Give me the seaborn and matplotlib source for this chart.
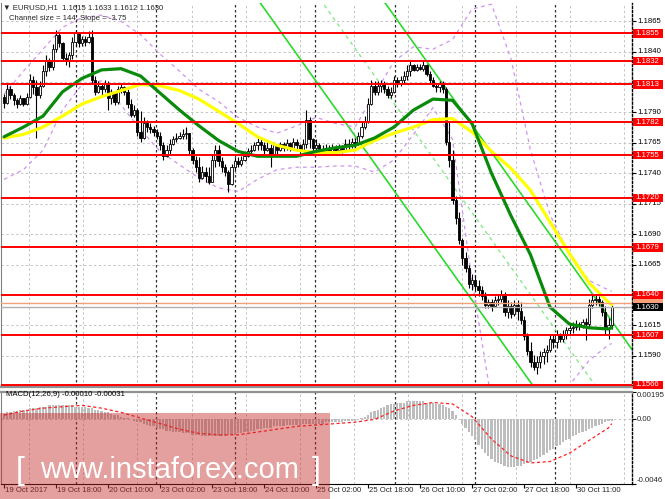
import numpy as np
import pandas as pd
import matplotlib
matplotlib.use("Agg")
import matplotlib.pyplot as plt
import matplotlib.transforms as mtransforms
from matplotlib.patches import Rectangle
import seaborn as sns

# ---------------- data ----------------
first_open = 1.1803
closes = [1.1798, 1.1809, 1.1804, 1.1800, 1.1797, 1.1802, 1.1797, 1.1803, 1.1817, 1.1811,
          1.1804, 1.1812, 1.1824, 1.1832, 1.1827, 1.1842, 1.1854, 1.1847, 1.1835, 1.1832,
          1.1837, 1.1848, 1.1855, 1.1847, 1.1850, 1.1848, 1.1852, 1.1817, 1.1807, 1.1812,
          1.1809, 1.1814, 1.1802, 1.1806, 1.1799, 1.1809, 1.1811, 1.1807, 1.1797, 1.1788,
          1.1792, 1.1774, 1.1769, 1.1781, 1.1778, 1.1776, 1.1774, 1.1771, 1.1763, 1.1754,
          1.1759, 1.1764, 1.1768, 1.1769, 1.1771, 1.1772, 1.1773, 1.1759, 1.1751, 1.1745,
          1.1736, 1.1741, 1.1738, 1.1733, 1.1751, 1.1759, 1.1750, 1.1745, 1.1741, 1.1731,
          1.1745, 1.1750, 1.1748, 1.1751, 1.1754, 1.1758, 1.1759, 1.1763, 1.1766, 1.1763,
          1.1759, 1.1761, 1.1756, 1.1763, 1.1759, 1.1764, 1.1761, 1.1765, 1.1761, 1.1766,
          1.1763, 1.1759, 1.1764, 1.1784, 1.1768, 1.1761, 1.1763, 1.1760, 1.1759, 1.1761,
          1.1758, 1.1761, 1.1759, 1.1761, 1.1759, 1.1764, 1.1763, 1.1766, 1.1764, 1.1771,
          1.1778, 1.1783, 1.1797, 1.1812, 1.1807, 1.1812, 1.1814, 1.1809, 1.1804, 1.1807,
          1.1817, 1.1814, 1.1817, 1.1820, 1.1824, 1.1829, 1.1825, 1.1827, 1.1826, 1.1829,
          1.1822, 1.1817, 1.1812, 1.1811, 1.1814, 1.1809, 1.1766, 1.1751, 1.1718, 1.1703,
          1.1685, 1.1670, 1.1662, 1.1649, 1.1652, 1.1647, 1.1644, 1.1639, 1.1632, 1.1634,
          1.1631, 1.1636, 1.1637, 1.1641, 1.1626, 1.1631, 1.1624, 1.1632, 1.1627, 1.1619,
          1.1606, 1.1594, 1.1585, 1.1581, 1.1585, 1.1590, 1.1593, 1.1595, 1.1604, 1.1601,
          1.1608, 1.1604, 1.1607, 1.1611, 1.1613, 1.1614, 1.1616, 1.1615, 1.1618, 1.1616,
          1.1632, 1.1636, 1.1637, 1.1634, 1.1626, 1.1613, 1.1615, 1.1630]
highs = [1.1805, 1.1814, 1.1812, 1.1806, 1.1802, 1.1804, 1.1802, 1.1806, 1.1822, 1.1820,
         1.1817, 1.1816, 1.1829, 1.1837, 1.1835, 1.1846, 1.1858, 1.1855, 1.1848, 1.1839,
         1.1840, 1.1852, 1.1858, 1.1855, 1.1853, 1.1853, 1.1857, 1.1858, 1.1820, 1.1816,
         1.1814, 1.1817, 1.1816, 1.1809, 1.1807, 1.1812, 1.1814, 1.1812, 1.1811, 1.1801,
         1.1796, 1.1794, 1.1791, 1.1786, 1.1784, 1.1781, 1.1779, 1.1776, 1.1774, 1.1766,
         1.1763, 1.1768, 1.1771, 1.1773, 1.1774, 1.1776, 1.1778, 1.1773, 1.1761, 1.1754,
         1.1753, 1.1746, 1.1745, 1.1745, 1.1756, 1.1763, 1.1763, 1.1753, 1.1748, 1.1743,
         1.1748, 1.1753, 1.1753, 1.1754, 1.1758, 1.1761, 1.1763, 1.1766, 1.1769, 1.1768,
         1.1766, 1.1766, 1.1764, 1.1766, 1.1764, 1.1766, 1.1766, 1.1768, 1.1766, 1.1769,
         1.1768, 1.1764, 1.1768, 1.1792, 1.1786, 1.1769, 1.1768, 1.1765, 1.1763, 1.1764,
         1.1763, 1.1764, 1.1763, 1.1764, 1.1763, 1.1768, 1.1768, 1.1769, 1.1769, 1.1774,
         1.1783, 1.1787, 1.1802, 1.1817, 1.1816, 1.1816, 1.1817, 1.1816, 1.1812, 1.1811,
         1.1820, 1.1819, 1.1820, 1.1824, 1.1829, 1.1832, 1.1830, 1.1830, 1.1830, 1.1832,
         1.1830, 1.1824, 1.1819, 1.1814, 1.1816, 1.1816, 1.1811, 1.1783, 1.1759, 1.1721,
         1.1708, 1.1687, 1.1675, 1.1665, 1.1657, 1.1656, 1.1652, 1.1647, 1.1642, 1.1637,
         1.1637, 1.1639, 1.1641, 1.1644, 1.1642, 1.1636, 1.1634, 1.1636, 1.1636, 1.1634,
         1.1623, 1.1609, 1.1601, 1.1591, 1.1590, 1.1594, 1.1596, 1.1599, 1.1608, 1.1608,
         1.1611, 1.1609, 1.1611, 1.1614, 1.1616, 1.1618, 1.1619, 1.1618, 1.1620, 1.1621,
         1.1637, 1.1640, 1.1641, 1.1639, 1.1636, 1.1631, 1.1621, 1.1633]
lows = [1.1794, 1.1797, 1.1801, 1.1796, 1.1794, 1.1796, 1.1795, 1.1796, 1.1802, 1.1805,
        1.1769, 1.1802, 1.1811, 1.1820, 1.1824, 1.1825, 1.1840, 1.1844, 1.1832, 1.1829,
        1.1827, 1.1834, 1.1845, 1.1844, 1.1845, 1.1845, 1.1847, 1.1814, 1.1804, 1.1806,
        1.1804, 1.1807, 1.1792, 1.1797, 1.1796, 1.1797, 1.1806, 1.1804, 1.1794, 1.1786,
        1.1786, 1.1771, 1.1766, 1.1768, 1.1774, 1.1773, 1.1771, 1.1768, 1.1759, 1.1751,
        1.1753, 1.1756, 1.1763, 1.1766, 1.1768, 1.1768, 1.1768, 1.1756, 1.1748, 1.1741,
        1.1733, 1.1735, 1.1733, 1.1731, 1.1733, 1.1745, 1.1746, 1.1741, 1.1738, 1.1725,
        1.1730, 1.1743, 1.1745, 1.1746, 1.1750, 1.1753, 1.1756, 1.1758, 1.1759, 1.1759,
        1.1756, 1.1758, 1.1745, 1.1754, 1.1756, 1.1758, 1.1758, 1.1759, 1.1758, 1.1759,
        1.1759, 1.1756, 1.1758, 1.1761, 1.1761, 1.1758, 1.1759, 1.1758, 1.1756, 1.1757,
        1.1755, 1.1757, 1.1756, 1.1758, 1.1757, 1.1758, 1.1759, 1.1761, 1.1761, 1.1763,
        1.1769, 1.1776, 1.1781, 1.1796, 1.1804, 1.1804, 1.1807, 1.1806, 1.1802, 1.1802,
        1.1806, 1.1811, 1.1812, 1.1814, 1.1817, 1.1820, 1.1824, 1.1824, 1.1825, 1.1824,
        1.1820, 1.1814, 1.1811, 1.1807, 1.1807, 1.1806, 1.1763, 1.1745, 1.1715, 1.1698,
        1.1682, 1.1665, 1.1659, 1.1646, 1.1644, 1.1644, 1.1639, 1.1636, 1.1629, 1.1629,
        1.1627, 1.1631, 1.1632, 1.1634, 1.1623, 1.1621, 1.1621, 1.1623, 1.1619, 1.1616,
        1.1603, 1.1591, 1.1581, 1.1578, 1.1575, 1.1580, 1.1583, 1.1585, 1.1593, 1.1596,
        1.1596, 1.1601, 1.1601, 1.1604, 1.1608, 1.1609, 1.1611, 1.1611, 1.1613, 1.1603,
        1.1614, 1.1629, 1.1632, 1.1631, 1.1623, 1.1608, 1.1604, 1.1612]

# moving averages / bands, read every 6 bars
ind_bars = [0, 6, 12, 18, 24, 30, 36, 42, 48, 54, 60, 66, 72, 78, 84, 90, 96, 102,
            108, 114, 120, 126, 132, 138, 144, 150, 156, 162, 168, 174, 180, 186, 187]
ma_green = [1.1770, 1.1778, 1.1787, 1.1807, 1.1818, 1.1825, 1.1826, 1.1820, 1.1806, 1.1792,
            1.1779, 1.1767, 1.1758, 1.1754, 1.1754, 1.1754, 1.1758, 1.1761, 1.1763, 1.1769,
            1.1778, 1.1792, 1.1801, 1.1800, 1.1781, 1.1740, 1.1705, 1.1673, 1.1630, 1.1616,
            1.1613, 1.1612, 1.1613]
ma_yellow = [1.1769, 1.1772, 1.1778, 1.1787, 1.1797, 1.1803, 1.1808, 1.1813, 1.1812, 1.1808,
             1.1801, 1.1791, 1.1781, 1.1770, 1.1763, 1.1759, 1.1757, 1.1757, 1.1759, 1.1767,
             1.1773, 1.1778, 1.1784, 1.1785, 1.1774, 1.1758, 1.1744, 1.1726, 1.1700, 1.1674,
             1.1650, 1.1634, 1.1632]
band_upper = [1.1805, 1.1824, 1.1842, 1.1860, 1.1868, 1.1870, 1.1865, 1.1854, 1.1838, 1.1824,
              1.1809, 1.1799, 1.1786, 1.1778, 1.1773, 1.1779, 1.1786, 1.1781, 1.1778, 1.1805,
              1.1832, 1.1844, 1.1842, 1.1850, 1.1875, 1.1879, 1.1834, 1.1759, 1.1706, 1.1673,
              1.1652, 1.1644, 1.1643]
band_lower = [1.1735, 1.1743, 1.1759, 1.1792, 1.1813, 1.1816, 1.1796, 1.1776, 1.1758, 1.1747,
              1.1736, 1.1728, 1.1725, 1.1735, 1.1743, 1.1745, 1.1745, 1.1746, 1.1746, 1.1741,
              1.1751, 1.1772, 1.1794, 1.1768, 1.1652, 1.1553, 1.1537, 1.1528, 1.1545, 1.1566,
              1.1586, 1.1599, 1.1600]

# MACD main (histogram) per bar, in units of 1e-4
macd_main_e4 = [4, 5, 5, 6, 6, 7, 7, 7, 8, 8, 8, 9, 9, 9, 10, 10, 10, 10,
                10, 10, 10, 10, 9, 9, 9, 9, 8, 8, 7, 7, 6, 5, 5, 4, 3, 3,
                2, 1, 1, 0, -1, -2, -2, -3, -4, -5, -5, -6, -7, -7, -8, -8, -9, -9,
                -9, -10, -10, -10, -11, -11, -11, -12, -12, -12, -12, -12,
                -12, -12, -12, -11, -11, -11, -10, -10, -9, -9, -8, -8,
                -7, -7, -6, -6, -6, -5, -5, -5, -5, -4, -4, -4,
                -4, -4, -3, -3, -3, -3, -3, -3, -3, -2, -2, -2,
                -2, -2, -2, -1, -1, -1, -1, 0, 1, 2, 3, 5,
                6, 7, 8, 9, 10, 11, 11, 12, 12, 12, 13, 13,
                13, 13, 13, 13, 12, 12, 12, 11, 11, 10, 9, 8,
                6, 3, 0, -3, -6, -9, -12, -15, -18, -21, -24, -26,
                -28, -30, -31, -32, -33, -34, -34, -34, -33, -33, -32, -31,
                -30, -29, -28, -27, -25, -24, -22, -21, -19, -18, -16, -15,
                -14, -12, -11, -10, -9, -8, -7, -6, -5, -4, -3, -2, -1, -1]
macd_signal_e4 = [3, 6, 8, 9, 10, 8, 5, 1, -3, -7, -10, -11, -11, -9, -7, -5, -4, -3,
                  -2, 0, 6, 10, 12, 11, 2, -14, -26, -31, -30, -24, -15, -6, -3]

channel_ref_bar = 78.2
channel_ref_price = 1.18825     # lower channel line at reference bar
channel_slope_pips = -3.75
channel_size_pips = 144

levels = [1.1855, 1.1832, 1.1813, 1.1782, 1.1755, 1.1720, 1.1679, 1.1640, 1.1607, 1.1566]
price_ticks = [1.1865, 1.1840, 1.1815, 1.1790, 1.1765, 1.1740, 1.1715, 1.1690, 1.1665,
               1.1640, 1.1615, 1.1590]
hidden_tick_labels = [1.1815, 1.1640]
bid, ask = 1.1630, 1.1633
time_labels = ['19 Oct 2017', '19 Oct 18:00', '20 Oct 10:00', '23 Oct 02:00', '23 Oct 18:00',
               '24 Oct 10:00', '25 Oct 02:00', '25 Oct 18:00', '26 Oct 10:00', '27 Oct 02:00',
               '27 Oct 18:00', '30 Oct 11:00']
time_label_bars = [0, 16, 32, 48, 64, 80, 96, 112, 128, 144, 160, 176]
separator_bars = [22.2, 46.8, 71.1, 95.7, 120.3, 144.9, 169.5]
grid_bars = [7.7, 24.3, 40.9, 57.8, 74.5, 91.1, 107.8, 124.4, 141.0, 157.6, 174.3, 190.9]

# ---------------- figure ----------------
W, H = 665, 499
sns.set_theme(style="white")
plt.rcParams['font.family'] = ['Liberation Sans', 'DejaVu Sans']
fig = plt.figure(figsize=(W / 100, H / 100), dpi=100)
fig.patch.set_facecolor('white')

ax = fig.add_axes([1 / W, 1 - 387 / H, 631 / W, 384 / H])
mx = fig.add_axes([1 / W, 1 - 484 / H, 631 / W, 92 / H])
XL = (-0.923, 193.23)
YL = (1.15643, 1.18800)
MYL = (-0.0046, 0.00195)

n = len(closes)
idx = np.arange(n)
opens = [first_open] + closes[:-1]
df = pd.DataFrame({'i': idx, 'open': opens, 'close': closes, 'high': highs, 'low': lows})
df['high'] = df[['high', 'open', 'close']].max(axis=1)
df['low'] = df[['low', 'open', 'close']].min(axis=1)

grid_col = '#c4c4c4'
for a in (ax, mx):
    for b in grid_bars:
        a.axvline(b, color=grid_col, lw=0.7, ls=(0, (2.5, 2.5)), zorder=0.4)
    for b in separator_bars:
        a.axvline(b, color='#303030', lw=0.9, ls=(0, (2, 2)), zorder=0.5)
for p in price_ticks:
    ax.axhline(p, color=grid_col, lw=0.7, ls=(0, (2.5, 2.5)), zorder=0.4)

# channel lines
xs = np.array([XL[0], XL[1]])
low_line = channel_ref_price + channel_slope_pips * 1e-4 * (xs - channel_ref_bar)
chan = pd.DataFrame({'x': xs, 'lower': low_line,
                     'mid': low_line + channel_size_pips * 1e-4 / 2,
                     'upper': low_line + channel_size_pips * 1e-4})
sns.lineplot(data=chan, x='x', y='lower', ax=ax, color='#2bd92b', lw=1.2, zorder=1)
sns.lineplot(data=chan, x='x', y='upper', ax=ax, color='#2bd92b', lw=1.2, zorder=1)
sns.lineplot(data=chan, x='x', y='mid', ax=ax, color='#7be87b', lw=0.9, ls=(0, (3, 3)), zorder=1)

# bands
ind = pd.DataFrame({'i': ind_bars, 'green': ma_green, 'yellow': ma_yellow,
                    'up': band_upper, 'lo': band_lower})
sns.lineplot(data=ind, x='i', y='up', ax=ax, color='#cf94f0', lw=0.9, ls=(0, (3, 3)), zorder=1.2)
sns.lineplot(data=ind, x='i', y='lo', ax=ax, color='#cf94f0', lw=0.9, ls=(0, (3, 3)), zorder=1.2)

# candles
up = df['close'] >= df['open']
ax.vlines(df['i'], df['low'], df['high'], color='black', lw=0.8, zorder=2)
body_h = (df['close'] - df['open']).abs().clip(lower=0.00004)
body_b = df[['open', 'close']].min(axis=1)
ax.bar(df['i'][up], body_h[up], bottom=body_b[up], width=0.62, color='white',
       edgecolor='black', lw=0.6, zorder=2.1)
ax.bar(df['i'][~up], body_h[~up], bottom=body_b[~up], width=0.62, color='black',
       edgecolor='black', lw=0.6, zorder=2.1)

# moving averages
sns.lineplot(data=ind, x='i', y='yellow', ax=ax, color='#ffff00', lw=2.3, zorder=3)
sns.lineplot(data=ind, x='i', y='green', ax=ax, color='#0a8a0a', lw=2.3, zorder=3.1)

# horizontal levels
for lv in levels:
    ax.axhline(lv, color='#ff0000', lw=1.4, zorder=4)
ax.axhline(ask, color='#f4a07a', lw=1.0, zorder=3.5)
ax.axhline(bid, color='#b0b0b0', lw=1.0, zorder=3.5)

ax.set_xlim(*XL)
ax.set_ylim(*YL)

# right-side axis labels
tr = mtransforms.blended_transform_factory(ax.transAxes, ax.transData)
fs = 5.6
ax.yaxis.tick_right()
ax.set_yticks(price_ticks)
ax.tick_params(axis='y', right=True, left=False, length=3, width=0.8, color='black',
               labelright=False, labelleft=False, direction='out')
ax.set_xticks([])
for p in price_ticks:
    if p in hidden_tick_labels:
        continue
    ax.text(1.0079, p, f'{p:.4f}', transform=tr, fontsize=fs, va='center', ha='left',
            color='black', zorder=5, clip_on=False)
bh = 8.2 / 384 * (YL[1] - YL[0])
bx, bw = (633 - 1) / 631, 30 / 631
def tag(p, fc, tc, z, show_text=True):
    ax.add_patch(Rectangle((bx, p - bh / 2), bw, bh, transform=tr, facecolor=fc,
                           edgecolor='none', clip_on=False, zorder=z))
    if show_text:
        ax.text(bx + 2.5 / 631, p, f'{p:.4f}', transform=tr, fontsize=fs, va='center',
                ha='left', color=tc, zorder=z + 0.1, clip_on=False)
for lv in levels:
    tag(lv, '#ff0000', 'white', 6)
tag(ask, '#f4a07a', 'white', 6.5, show_text=False)
tag(bid, '#000000', 'white', 7)

ax.spines['top'].set_visible(False)
ax.spines['left'].set_color('#808080')
ax.spines['left'].set_linewidth(0.8)
ax.spines['right'].set_color('black')
ax.spines['right'].set_linestyle((0, (1.5, 1.5)))
ax.spines['right'].set_linewidth(1.0)
ax.spines['bottom'].set_color('#909090')
ax.spines['bottom'].set_linewidth(1.6)
ax.set_xlabel('')
ax.set_ylabel('')

# ---------------- MACD ----------------
macd_df = pd.DataFrame({'i': idx, 'v': np.array(macd_main_e4) * 1e-4})
sns.barplot(data=macd_df, x='i', y='v', ax=mx, native_scale=True, color='#bdbdbd',
            saturation=1, width=0.7, errorbar=None, linewidth=0)
sig_df = pd.DataFrame({'i': ind_bars, 's': np.array(macd_signal_e4) * 1e-4})
sns.lineplot(data=sig_df, x='i', y='s', ax=mx, color='#ff2020', lw=0.9, ls=(0, (2.5, 2)), zorder=3)
mx.axhline(0, color=grid_col, lw=0.7, ls=(0, (2.5, 2.5)), zorder=0.4)
mx.set_xlim(*XL)
mx.set_ylim(*MYL)
mx.set_xlabel('')
mx.set_ylabel('')
mx.set_yticks([MYL[1], 0.0, MYL[0]])
mx.yaxis.tick_right()
mx.tick_params(axis='y', right=True, left=False, length=3, width=0.8, labelright=False,
               labelleft=False, direction='out', color='black')
mx.set_xticks(time_label_bars)
mx.tick_params(axis='x', bottom=True, length=3, width=0.8, labelbottom=False,
               direction='out', color='black')
mtr = mtransforms.blended_transform_factory(mx.transAxes, mx.transData)
mx.text(1.0079, MYL[1], '0.00195', transform=mtr, fontsize=fs, va='top', ha='left')
mx.text(1.0079, 0.0, '0.00', transform=mtr, fontsize=fs, va='center', ha='left')
mx.text(1.0079, MYL[0], '-0.0046', transform=mtr, fontsize=fs, va='bottom', ha='left')
mx.spines['top'].set_color('#909090')
mx.spines['top'].set_linewidth(1.6)
mx.spines['left'].set_color('#808080')
mx.spines['left'].set_linewidth(0.8)
mx.spines['bottom'].set_color('black')
mx.spines['bottom'].set_linewidth(0.8)
mx.spines['right'].set_color('black')
mx.spines['right'].set_linestyle((0, (1.5, 1.5)))
mx.spines['right'].set_linewidth(1.0)
mx.text(5 / 631, 0.00175, 'MACD(12,26,9) -0.00010 -0.00031', transform=mtr,
        fontsize=fs, va='center', ha='left', color='black')

# time labels
xtr = mtransforms.blended_transform_factory(mx.transData, fig.transFigure)
for b, lab in zip(time_label_bars, time_labels):
    mx.text(b + 0.3, 1 - 491 / H, lab, transform=xtr, fontsize=fs, va='center', ha='left',
            clip_on=False)

# header
fig.text(3 / W, 1 - 8 / H, '\u25bc EURUSD,H1  1.1615 1.1633 1.1612 1.1630', fontsize=fs,
         va='center', ha='left', family=['Liberation Sans', 'DejaVu Sans'])
fig.text(9 / W, 1 - 19 / H, 'Channel size = 144, Slope = -3.75', fontsize=fs,
         va='center', ha='left')

# watermark
fig.patches.append(Rectangle((0, 0), 330 / W, 86 / H, transform=fig.transFigure,
                             facecolor='#c42a2a', alpha=0.45, edgecolor='none', zorder=10))
fig.text(16 / W, 1 - 479 / H, '[', fontsize=23, color='white', va='baseline', ha='left', zorder=11)
fig.text(40 / W, 1 - 478 / H, 'www.instaforex.com', fontsize=21, color='white',
         va='baseline', ha='left', zorder=11)
fig.text(312 / W, 1 - 479 / H, ']', fontsize=23, color='white', va='baseline', ha='left', zorder=11)

fig.savefig('out.png', dpi=100)
